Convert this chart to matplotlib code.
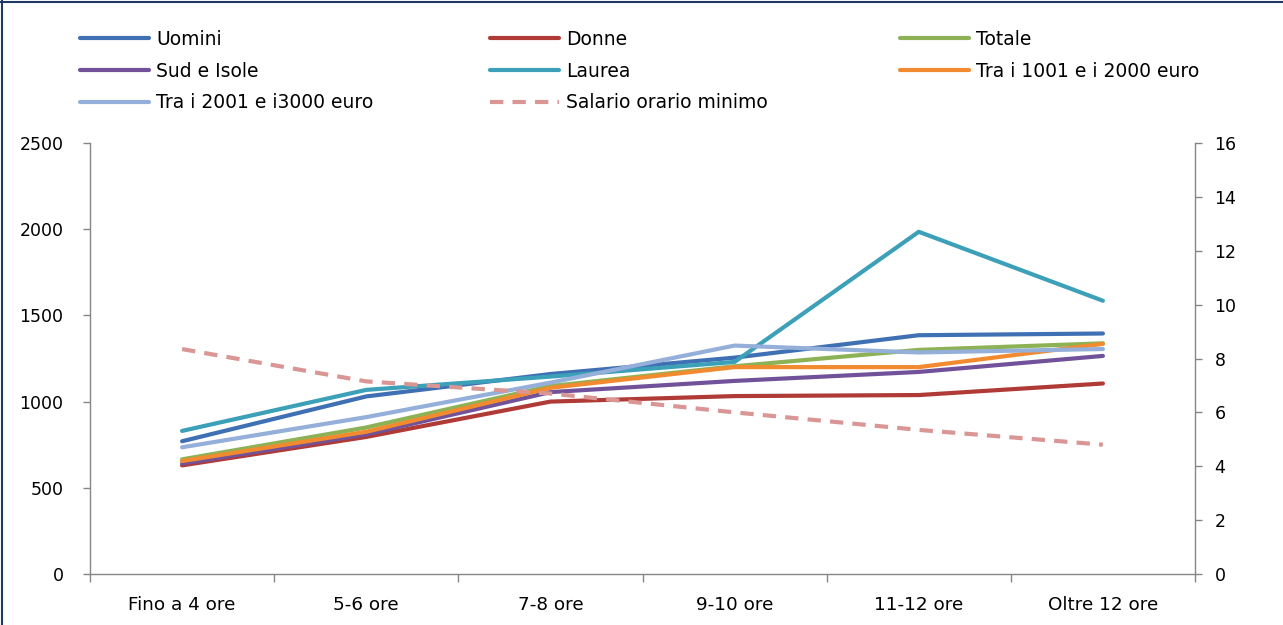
import matplotlib
matplotlib.use("Agg")
import matplotlib.pyplot as plt
from matplotlib.lines import Line2D

categories = ["Fino a 4 ore", "5-6 ore", "7-8 ore", "9-10 ore", "11-12 ore", "Oltre 12 ore"]

uomini = [770, 1030, 1160, 1255, 1385, 1395]
donne = [630, 795, 1000, 1032, 1038, 1105]
totale = [665, 850, 1090, 1205, 1300, 1338]
sud_isole = [640, 810, 1055, 1120, 1172, 1265]
laurea = [830, 1068, 1145, 1230, 1985, 1585]
tra_1001_2000 = [655, 825, 1080, 1200, 1200, 1335]
tra_2001_3000 = [735, 910, 1110, 1325, 1285, 1305]
salario_orario = [8.35, 7.15, 6.7, 6.0, 5.35, 4.8]

left_ticks = [0, 500, 1000, 1500, 2000, 2500]
right_ticks = [0, 2, 4, 6, 8, 10, 12, 14, 16]

series = [
    ("Uomini", uomini, "#3F70B3"),
    ("Donne", donne, "#B03A36"),
    ("Totale", totale, "#8DB255"),
    ("Sud e Isole", sud_isole, "#71529A"),
    ("Laurea", laurea, "#3BA0B8"),
    ("Tra i 1001 e i 2000 euro", tra_1001_2000, "#F28A30"),
    ("Tra i 2001 e i3000 euro", tra_2001_3000, "#94AFD9"),
]

plt.rcParams["font.family"] = ["DejaVu Sans"]
W, H = 1283, 625
fig = plt.figure(figsize=(W / 100, H / 100), dpi=100)

ax = fig.add_axes([90 / W, 1 - 574 / H, (1195 - 90) / W, (574 - 143) / H])
x = list(range(len(categories)))
handles = {}
for name, vals, col in series:
    (ln,) = ax.plot(x, vals, color=col, lw=3.0, solid_capstyle="round",
                    solid_joinstyle="round", label=name)
    handles[name] = ln

ax2 = ax.twinx()
(sal,) = ax2.plot(x, salario_orario, color="#D99694", lw=3.0, dashes=(3.2, 2.2),
                  label="Salario orario minimo")
handles["Salario orario minimo"] = sal

ax.set_xlim(-0.5, len(categories) - 0.5)
ax.set_ylim(0, 2500)
ax2.set_ylim(0, 16)
ax.set_yticks(left_ticks)
ax2.set_yticks(right_ticks)
ax.set_xticks(x)
ax.set_xticklabels(categories)
ax.set_xticks([i - 0.5 for i in range(len(categories) + 1)], minor=True)

axis_col = "#868686"
for a in (ax, ax2):
    for s in a.spines.values():
        s.set_color(axis_col)
        s.set_linewidth(1.0)
    a.spines["top"].set_visible(False)
ax.spines["right"].set_visible(False)
ax2.spines["left"].set_visible(False)
ax2.spines["bottom"].set_visible(False)

ax.tick_params(axis="y", length=5, width=1, color=axis_col, pad=14,
               labelsize=12.5, labelcolor="#000000")
ax2.tick_params(axis="y", length=5, width=1, color=axis_col, pad=9,
                labelsize=12.5, labelcolor="#000000")
ax.tick_params(axis="x", which="major", length=0, pad=16, labelsize=13.2)
ax.tick_params(axis="x", which="minor", length=6, width=1, color=axis_col)

# Legend: three columns placed at fixed horizontal positions
cols = [
    ["Uomini", "Sud e Isole", "Tra i 2001 e i3000 euro"],
    ["Donne", "Laurea", "Salario orario minimo"],
    ["Totale", "Tra i 1001 e i 2000 euro"],
]
col_x = [80, 490, 900]
for names, cx in zip(cols, col_x):
    fig.legend([handles[n] for n in names], names,
               loc="upper left", bbox_to_anchor=(cx / W, 1 - 30 / H),
               frameon=False, fontsize=13.5, handlelength=3.7,
               handletextpad=0.35, labelspacing=0.68, borderpad=0,
               borderaxespad=0)

# Chart frame on the left and top edges
frame_col = "#1F3864"
fig.add_artist(Line2D([1.5 / W, 1.5 / W], [0, 1], color=frame_col, lw=1.5,
                      transform=fig.transFigure))
fig.add_artist(Line2D([0, 1], [1 - 1.5 / H, 1 - 1.5 / H], color=frame_col, lw=1.5,
                      transform=fig.transFigure))

fig.savefig("out.png", dpi=100)
